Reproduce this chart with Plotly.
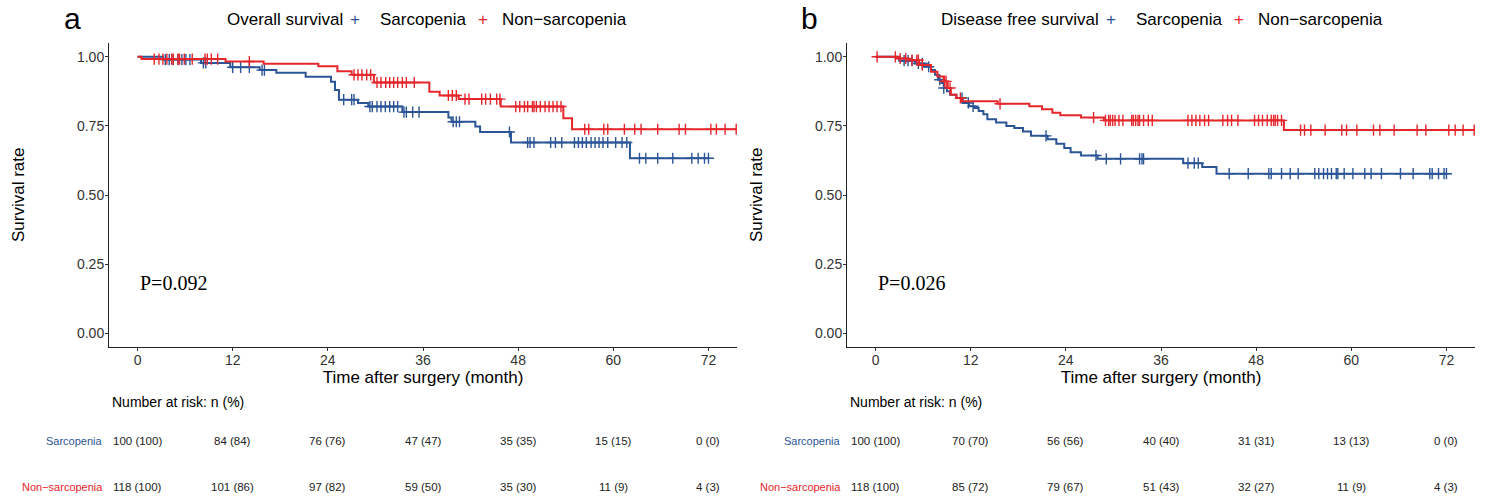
import numpy as np
import plotly.graph_objects as go

# ---------------- data ----------------
# Panel a: overall survival
os_sarc_t = [0, 3.2, 8.0, 11.7, 15.4, 17.5, 21.2, 24.4, 24.9, 25.4, 27.8, 29.1, 33.4, 39.2, 39.6, 42.6, 43.2, 47.1, 62.1]
os_sarc_s = [1.0, 0.99, 0.978, 0.962, 0.952, 0.942, 0.928, 0.91, 0.88, 0.845, 0.833, 0.82, 0.80, 0.78, 0.765, 0.748, 0.728, 0.69, 0.633]
os_sarc_cens = [3.5, 4.0, 4.5, 5.1, 5.6, 6.1, 6.6, 8.3, 8.6, 12.0, 13.0, 14.1, 15.7, 16.0, 26.0, 27.0, 27.3, 29.3, 29.6,
                30.2, 30.7, 31.25, 31.8, 32.3, 32.8, 33.6, 33.9, 34.7, 35.5, 39.8, 40.2, 40.6, 46.9, 49.2, 49.5, 50.0,
                52.1, 52.7, 53.5, 55.1, 55.6, 56.1, 56.6, 57.2, 57.7, 58.2, 58.7, 59.3, 60.3, 61.1, 61.7, 63.3, 64.1,
                65.6, 67.5, 69.9, 70.7, 71.5, 72.0]

os_non_t = [0, 0.5, 11.1, 15.9, 22.8, 25.2, 27.0, 29.8, 36.8, 38.1, 40.5, 45.8, 53.7, 54.8]
os_non_s = [1.0, 0.992, 0.983, 0.975, 0.966, 0.948, 0.935, 0.907, 0.874, 0.86, 0.847, 0.82, 0.778, 0.738]
os_non_cens = [2.1, 2.7, 3.2, 3.7, 4.3, 4.5, 5.1, 5.3, 5.9, 6.9, 8.5, 8.8, 9.3, 10.1, 14.1, 27.3, 27.8, 28.3, 28.9,
               29.4, 30.2, 30.7, 31.3, 31.8, 32.3, 32.8, 33.4, 33.9, 34.9, 39.2, 39.7, 40.2, 41.3, 41.8, 43.4, 43.9,
               44.5, 45.3, 45.7, 47.7, 48.2, 48.8, 49.2, 49.8, 50.0, 50.3, 50.8, 51.4, 51.9, 52.4, 52.9, 53.4, 56.4,
               56.9, 58.8, 59.3, 61.4, 62.7, 63.5, 65.6, 68.3, 69.1, 72.3, 73.0, 74.1, 75.5]

# Panel b: disease free survival
dfs_sarc_t = [0, 3.0, 5.0, 6.2, 7.0, 7.5, 7.9, 8.3, 8.6, 9.0, 9.4, 10.2, 11.0, 11.8, 12.5, 13.0, 13.6, 14.1, 15.2,
              16.5, 17.5, 18.6, 19.6, 21.7, 22.8, 23.8, 24.6, 25.9, 28.0, 38.8, 41.2, 43.0]
dfs_sarc_s = [1.0, 0.986, 0.976, 0.964, 0.952, 0.935, 0.917, 0.905, 0.887, 0.875, 0.863, 0.851, 0.833, 0.821, 0.815,
              0.804, 0.792, 0.774, 0.762, 0.75, 0.742, 0.73, 0.714, 0.702, 0.685, 0.67, 0.655, 0.643, 0.631, 0.615,
              0.601, 0.577]
dfs_sarc_cens = [3.6, 4.1, 4.6, 5.4, 5.9, 6.7, 8.1, 8.6, 10.9, 11.7, 12.3, 21.5, 27.8, 29.1, 30.9, 33.3, 33.6, 33.8,
                 39.4, 40.2, 40.7, 44.6, 47.0, 49.6, 49.9, 51.2, 52.3, 53.3, 55.4, 55.9, 56.5, 57.0, 57.5, 58.1, 58.3,
                 59.1, 60.2, 61.7, 62.5, 63.8, 66.2, 67.8, 69.9, 70.2, 71.0, 71.7, 72.0]

dfs_non_t = [0, 2.8, 4.1, 5.5, 7.0, 7.8, 8.6, 9.1, 9.5, 10.2, 10.9, 15.4, 19.4, 21.0, 22.3, 23.3, 25.9, 28.8, 51.5]
dfs_non_s = [1.0, 0.994, 0.988, 0.97, 0.946, 0.929, 0.911, 0.887, 0.863, 0.851, 0.839, 0.83, 0.821, 0.81, 0.798,
             0.789, 0.78, 0.77, 0.735]
dfs_non_cens = [0.2, 2.5, 3.1, 3.8, 4.6, 5.2, 5.4, 5.9, 8.7, 8.9, 9.4, 10.7, 15.7, 27.5, 29.0, 29.4, 29.6, 29.9,
                30.2, 30.7, 31.2, 32.3, 32.5, 32.8, 33.1, 33.3, 33.8, 34.4, 34.9, 39.4, 39.9, 40.4, 40.9, 41.5,
                42.0, 43.8, 44.4, 44.9, 45.7, 47.8, 48.3, 48.8, 49.4, 49.9, 50.2, 50.4, 50.7, 51.2, 53.6, 54.1,
                54.9, 56.7, 58.8, 59.4, 60.7, 62.8, 63.6, 65.4, 68.3, 69.4, 72.3, 73.1, 74.1, 75.5]

# Risk tables
risk_times = [0, 12, 24, 36, 48, 60, 72]
os_sarc_n = [100, 84, 76, 47, 35, 15, 0]
os_sarc_pct = [100, 84, 76, 47, 35, 15, 0]
os_non_n = [118, 101, 97, 59, 35, 11, 4]
os_non_pct = [100, 86, 82, 50, 30, 9, 3]
dfs_sarc_n = [100, 70, 56, 40, 31, 13, 0]
dfs_sarc_pct = [100, 70, 56, 40, 31, 13, 0]
dfs_non_n = [118, 85, 79, 51, 32, 11, 4]
dfs_non_pct = [100, 72, 67, 43, 27, 9, 3]

groups = ["Sarcopenia", "Non\u2212sarcopenia"]
panel_titles = ["Overall survival", "Disease free survival"]
panel_letters = ["a", "b"]
p_values = ["P=0.092", "P=0.026"]
x_ticks = [0, 12, 24, 36, 48, 60, 72]
y_ticks = [0, 0.25, 0.5, 0.75, 1.0]

# ---------------- style ----------------
BLUE = "#2B5596"
RED = "#E5262B"
FONT = "Liberation Sans, Arial, sans-serif"
W, H = 1489, 499

fig = go.Figure()


def step_xy(t, s, end):
    x = list(t) + [end]
    y = list(s) + [s[-1]]
    return x, y


def cens_y(t, s, c):
    idx = np.searchsorted(np.array(t), np.array(c), side="right") - 1
    return [s[i] for i in idx]


panels = [
    ("x", "y", [(os_sarc_t, os_sarc_s, os_sarc_cens, BLUE), (os_non_t, os_non_s, os_non_cens, RED)]),
    ("x2", "y2", [(dfs_sarc_t, dfs_sarc_s, dfs_sarc_cens, BLUE), (dfs_non_t, dfs_non_s, dfs_non_cens, RED)]),
]

for pi, (xa, ya, curves) in enumerate(panels):
    for gi, (t, s, c, col) in enumerate(curves):
        xs, ys = step_xy(t, s, max(c))
        fig.add_trace(go.Scatter(x=xs, y=ys, mode="lines", line=dict(color=col, width=2, shape="hv"),
                                 xaxis=xa, yaxis=ya, showlegend=False, hoverinfo="skip"))
        fig.add_trace(go.Scatter(x=c, y=cens_y(t, s, c), mode="markers", name=groups[gi],
                                 marker=dict(symbol="cross-thin", size=8, color=col, line=dict(color=col, width=1.4)),
                                 xaxis=xa, yaxis=ya, showlegend=False))

px = lambda v: v / W
py = lambda v: 1 - v / H

ydom = [py(347), py(43)]
xdoms = [[px(109), px(737)], [px(847), px(1475)]]

axis_common = dict(showline=True, linecolor="#222", linewidth=1, ticks="outside", ticklen=3, tickcolor="#333",
                   showgrid=False, zeroline=False, tickfont=dict(family=FONT, size=14, color="#333"))

fig.update_layout(
    width=W, height=H, margin=dict(l=0, r=0, t=0, b=0),
    plot_bgcolor="white", paper_bgcolor="white",
    font=dict(family=FONT, color="black"),
    showlegend=False,
    xaxis=dict(domain=xdoms[0], range=[-3.6, 75.6], tickvals=x_ticks, anchor="y", ticklabelstandoff=-3,
               title=dict(text="Time after surgery (month)", font=dict(size=17), standoff=4), **axis_common),
    yaxis=dict(domain=ydom, range=[-0.05, 1.05], tickvals=y_ticks, ticktext=[f"{v:.2f}" for v in y_ticks],
               anchor="x", ticklabelstandoff=-2, **axis_common),
    xaxis2=dict(domain=xdoms[1], range=[-3.6, 75.6], tickvals=x_ticks, anchor="y2", ticklabelstandoff=-3,
                title=dict(text="Time after surgery (month)", font=dict(size=17), standoff=4), **axis_common),
    yaxis2=dict(domain=ydom, range=[-0.05, 1.05], tickvals=y_ticks, ticktext=[f"{v:.2f}" for v in y_ticks],
                anchor="x2", ticklabelstandoff=-2, **axis_common),
)

ann = []
letter_x = [px(72), px(809)]
ytitle_x = [px(18), px(756)]
num_x = [px(110), px(848)]
lab_x = [px(105), px(843)]
# legend layout (pixel positions): title start, first symbol, first label, second symbol, second label
leg_pos = [(225, 355, 378, 483, 500), (939, 1111, 1134, 1239, 1256)]
tables = [(os_sarc_n, os_sarc_pct, os_non_n, os_non_pct), (dfs_sarc_n, dfs_sarc_pct, dfs_non_n, dfs_non_pct)]
xrefs = ["x", "x2"]
yrefs = ["y", "y2"]
LEG_Y = py(19)
for i in range(2):
    ann.append(dict(text=panel_letters[i], x=letter_x[i], y=py(18), xref="paper", yref="paper",
                    showarrow=False, font=dict(size=30, family=FONT), xanchor="center", yanchor="middle"))
    ann.append(dict(text="Survival rate", x=ytitle_x[i], y=py(195), xref="paper", yref="paper", textangle=-90,
                    showarrow=False, font=dict(size=17, family=FONT), xanchor="center", yanchor="middle"))
    # legend
    t0, s1, l1, s2, l2 = leg_pos[i]
    ann.append(dict(text=panel_titles[i], x=px(t0), y=LEG_Y, xref="paper", yref="paper", showarrow=False,
                    xanchor="left", yanchor="middle", font=dict(size=17)))
    for sx, lx, col, g in [(s1, l1, BLUE, groups[0]), (s2, l2, RED, groups[1])]:
        ann.append(dict(text="+", x=px(sx), y=LEG_Y, xref="paper", yref="paper", showarrow=False,
                        xanchor="center", yanchor="middle", font=dict(size=17, color=col)))
        ann.append(dict(text=g, x=px(lx), y=LEG_Y, xref="paper", yref="paper", showarrow=False,
                        xanchor="left", yanchor="middle", font=dict(size=17)))
    ann.append(dict(text=p_values[i], x=0, y=0.18, xref=xrefs[i], yref=yrefs[i], showarrow=False,
                    xanchor="left", yanchor="middle",
                    font=dict(size=20, family="Liberation Serif, Times New Roman, serif")))
    ann.append(dict(text="Number at risk: n (%)", x=num_x[i], y=py(402), xref="paper", yref="paper",
                    showarrow=False, xanchor="left", yanchor="middle", font=dict(size=14)))
    sn, sp, nn, npct = tables[i]
    for gi, (row_y, col, ns, ps) in enumerate([(441, BLUE, sn, sp), (487, RED, nn, npct)]):
        ann.append(dict(text=groups[gi], x=lab_x[i], y=py(row_y), xref="paper", yref="paper", showarrow=False,
                        xanchor="right", yanchor="middle", font=dict(size=11, color=col)))
        for tt, n, p in zip(risk_times, ns, ps):
            ann.append(dict(text=f"{n} ({p})", x=tt, y=py(row_y), xref=xrefs[i], yref="paper", showarrow=False,
                            xanchor="center", yanchor="middle", font=dict(size=11.5, color="#222")))

fig.update_layout(annotations=ann)
fig.write_html("out.html", config={"displayModeBar": False},
               post_script="document.body.style.margin='0';document.body.style.overflow='hidden';")
